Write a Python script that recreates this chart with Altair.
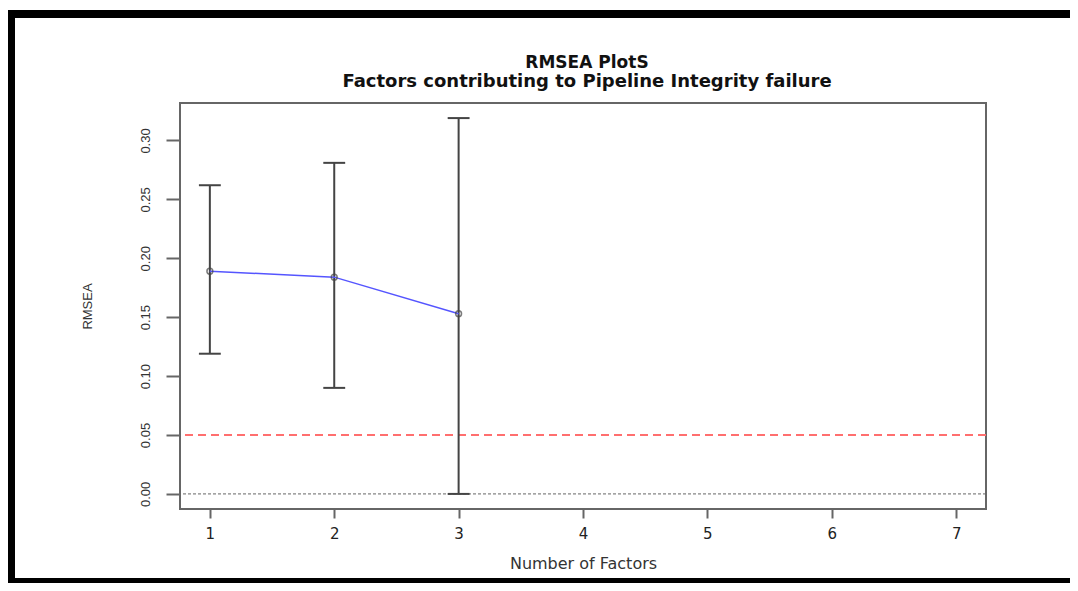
import altair as alt
import pandas as pd

# --- data ---
factors = [1, 2, 3]
rmsea = [0.189, 0.184, 0.153]
lower = [0.119, 0.090, 0.000]
upper = [0.262, 0.281, 0.319]

ref_values = [0.05, 0.0]
ref_kind = ["cutoff", "zero"]

x_ticks = [1, 2, 3, 4, 5, 6, 7]
y_ticks = [0.00, 0.05, 0.10, 0.15, 0.20, 0.25, 0.30]

title_main = "RMSEA PlotS"
title_sub = "Factors contributing to Pipeline Integrity failure"

df = pd.DataFrame({"factor": factors, "rmsea": rmsea, "lo": lower, "hi": upper})
ref = pd.DataFrame({"v": ref_values, "kind": ref_kind})
one = pd.DataFrame({"a": [0]})

FONT = "Liberation Sans"
WIDE = "DejaVu Sans"

xscale = alt.Scale(domain=[0.76, 7.24], nice=False, zero=False)
yscale = alt.Scale(domain=[-0.0128, 0.3318], nice=False, zero=False)

xaxis = alt.Axis(
    title="Number of Factors", values=x_ticks, format="d", grid=False, domain=False,
    tickSize=9, tickColor="#666666", tickWidth=2, labelPadding=8, labelFontSize=15,
    labelColor="#222222", labelFont=WIDE, titleFont=WIDE, titleFontSize=16,
    titleFontWeight="normal", titleColor="#333333", titlePadding=14,
)
yaxis = alt.Axis(
    title="RMSEA", values=y_ticks, format=".2f", grid=False, domain=False,
    tickSize=14, tickColor="#666666", tickWidth=2, labelAngle=-90, labelAlign="center",
    labelBaseline="bottom", labelPadding=14, labelFontSize=13, labelColor="#333333",
    labelFont=FONT, titleFont=FONT, titleFontSize=13, titleFontWeight="normal",
    titleColor="#333333", titlePadding=45,
)

base = alt.Chart(df)

EB = "#444444"
bars = base.mark_rule(color=EB, strokeWidth=2).encode(
    x=alt.X("factor:Q", scale=xscale, axis=xaxis),
    y=alt.Y("lo:Q", scale=yscale, axis=yaxis),
    y2="hi:Q",
)
caps_hi = base.transform_calculate(
    xa="datum.factor - 0.088", xb="datum.factor + 0.088"
).mark_rule(color=EB, strokeWidth=2).encode(
    x=alt.X("xa:Q", scale=xscale), x2="xb:Q", y=alt.Y("hi:Q", scale=yscale)
)
caps_lo = base.transform_calculate(
    xa="datum.factor - 0.088", xb="datum.factor + 0.088"
).mark_rule(color=EB, strokeWidth=2).encode(
    x=alt.X("xa:Q", scale=xscale), x2="xb:Q", y=alt.Y("lo:Q", scale=yscale)
)
line = base.mark_line(color="#5555ff", strokeWidth=1.5).encode(
    x=alt.X("factor:Q", scale=xscale), y=alt.Y("rmsea:Q", scale=yscale)
)
pts = base.mark_point(shape="circle", filled=False, color="#444444", size=34, strokeWidth=1.5).encode(
    x=alt.X("factor:Q", scale=xscale), y=alt.Y("rmsea:Q", scale=yscale)
)

cut = alt.Chart(ref).transform_filter("datum.kind == 'cutoff'").mark_rule(
    color="#ff6f6f", strokeWidth=2, strokeDash=[8, 5]
).encode(y=alt.Y("v:Q", scale=yscale))
zero = alt.Chart(ref).transform_filter("datum.kind == 'zero'").mark_rule(
    color="#666666", strokeWidth=1, strokeDash=[3, 2]
).encode(y=alt.Y("v:Q", scale=yscale))

# title lines as text marks (placed in pixels relative to the plot origin)
t1 = alt.Chart(one).mark_text(
    text=title_main, font=WIDE, fontSize=17, fontWeight="bold", color="#111111",
    align="center", baseline="alphabetic",
).encode(x=alt.value(407), y=alt.value(-35))
t2 = alt.Chart(one).mark_text(
    text=title_sub, font=WIDE, fontSize=18, fontWeight="bold", color="#111111",
    align="center", baseline="alphabetic",
).encode(x=alt.value(407), y=alt.value(-16))

# outer black frame of the figure (pixel positions relative to plot origin)
frame_top = alt.Chart(one).mark_rule(color="black", strokeWidth=8).encode(
    x=alt.value(-172), x2=alt.value(895), y=alt.value(-89)
)
frame_left = alt.Chart(one).mark_rule(color="black", strokeWidth=8).encode(
    x=alt.value(-169), y=alt.value(-93), y2=alt.value(485)
)
frame_bottom = alt.Chart(one).mark_rule(color="black", strokeWidth=6).encode(
    x=alt.value(-172), x2=alt.value(895), y=alt.value(478)
)

chart = alt.layer(
    zero, cut, bars, caps_hi, caps_lo, line, pts, t1, t2, frame_top, frame_left, frame_bottom
).properties(
    width=806, height=406,
    background="white",
    autosize=alt.AutoSizeParams(type="none"),
    padding={"left": 172, "top": 95, "right": 84, "bottom": 74},
).configure_view(
    stroke="#666666", strokeWidth=2
)

chart.save("out.html", embed_options={"renderer": "svg", "actions": False})
